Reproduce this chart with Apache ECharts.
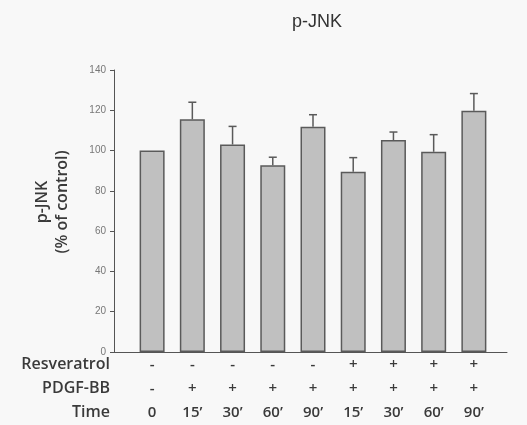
<!DOCTYPE html>
<html><head><meta charset="utf-8">
<script src="https://cdn.jsdelivr.net/npm/echarts@6/dist/echarts.min.js"></script>
<style>html,body{margin:0;padding:0;background:#f8f8f8;}#c{width:527px;height:425px;}</style>
</head><body><div id="c"></div>
<script>
const resveratrol = ['-','-','-','-','-','+','+','+','+'];
const pdgf = ['-','+','+','+','+','+','+','+','+'];
const times = ['0','15\u2019','30\u2019','60\u2019','90\u2019','15\u2019','30\u2019','60\u2019','90\u2019'];
const values = [100, 115.5, 103, 92.7, 111.8, 89.5, 105.2, 99.4, 119.8];
const errors = [0, 8.5, 9, 4, 6, 7, 4, 8.5, 8.5];
const yTicks = [0, 20, 40, 60, 80, 100, 120, 140];
const rowLabels = ['Resveratrol', 'PDGF-BB', 'Time'];

const cats = times.map((t, i) => i);
const chart = echarts.init(document.getElementById('c'), null, {renderer: 'canvas'});
const font = '"Open Sans", Lato, sans-serif';
const rowY = [364, 388, 412];
chart.setOption({
  backgroundColor: '#f8f8f8',
  animation: false,
  title: {
    text: 'p-JNK', left: 312, top: 8, textAlign: 'center',
    textStyle: {fontSize: 18, fontWeight: 'normal', color: '#333', fontFamily: 'Arial, "Liberation Sans", sans-serif'}
  },
  grid: [
    {left: 132, right: 33, top: 70, bottom: 73},
    {left: 114, right: 20, top: 70, bottom: 73}
  ],
  xAxis: [
    {
      type: 'category', gridIndex: 0, data: cats,
      axisLine: {show: false}, axisTick: {show: false},
      axisLabel: {
        margin: 1, interval: 0, lineHeight: 24, fontSize: 15, fontWeight: 600, color: '#3a3a3a', fontFamily: font,
        formatter: (v, i) => resveratrol[i] + '\n' + pdgf[i] + '\n' + times[i]
      }
    },
    {
      type: 'value', gridIndex: 1, min: 0, max: 1,
      axisLine: {show: true, lineStyle: {color: '#555', width: 1}},
      axisTick: {show: false}, axisLabel: {show: false}, splitLine: {show: false}
    }
  ],
  yAxis: [
    {
      type: 'value', gridIndex: 0, min: yTicks[0], max: yTicks[yTicks.length - 1], interval: 20, offset: 18,
      axisLine: {show: true, lineStyle: {color: '#555', width: 1}},
      axisTick: {show: true, length: 4, lineStyle: {color: '#555'}},
      axisLabel: {fontSize: 10, color: '#777', margin: 8, fontFamily: 'Arial, sans-serif'},
      splitLine: {show: false},
      name: 'p-JNK\n(% of control)', nameLocation: 'middle', nameRotate: 90, nameGap: 42,
      nameTextStyle: {fontSize: 16, fontWeight: 600, lineHeight: 20, color: '#3a3a3a', fontFamily: font, padding: [0, 0, 0, 18]}
    },
    {type: 'value', gridIndex: 1, show: false, min: 0, max: 140}
  ],
  graphic: rowLabels.map((t, i) => ({
    type: 'text', x: 110, y: rowY[i],
    style: {text: t, textAlign: 'right', textVerticalAlign: 'middle', fontSize: 16, fontWeight: 600, fill: '#3a3a3a', fontFamily: font}
  })),
  series: [
    {
      type: 'bar', xAxisIndex: 0, yAxisIndex: 0, data: values, barWidth: 25,
      itemStyle: {color: '#c0c0c0', borderColor: '#5a5a5a', borderWidth: 1.5}
    },
    {
      type: 'custom', xAxisIndex: 0, yAxisIndex: 0,
      data: values.map((v, i) => [i, v, errors[i]]),
      renderItem: (params, api) => {
        const e = api.value(2);
        if (!e) return null;
        const p0 = api.coord([api.value(0), api.value(1)]);
        const p1 = api.coord([api.value(0), api.value(1) + e]);
        const st = {stroke: '#5a5a5a', lineWidth: 1.5};
        return {type: 'group', children: [
          {type: 'line', shape: {x1: p0[0], y1: p0[1], x2: p1[0], y2: p1[1]}, style: st},
          {type: 'line', shape: {x1: p1[0] - 4, y1: p1[1], x2: p1[0] + 4, y2: p1[1]}, style: st}
        ]};
      },
      z: 3
    }
  ]
});
</script></body></html>
